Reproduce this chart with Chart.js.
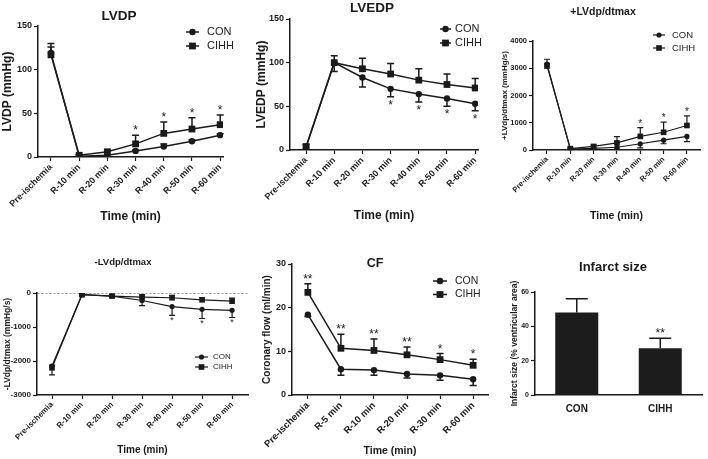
<!DOCTYPE html>
<html>
<head>
<meta charset="utf-8">
<title>Cardiac function after ischemia</title>
<script src="https://cdn.jsdelivr.net/npm/chart.js@4.4.1/dist/chart.umd.min.js"></script>
<style>
    body { margin: 0; background: #fff; }
    #page { position: relative; width: 708px; height: 459px; overflow: hidden; }
    #page canvas { position: absolute; }
</style>
</head>
<body>
<div id="page">
    <canvas id="lvdpChart"></canvas>
    <canvas id="lvedpChart"></canvas>
    <canvas id="plusChart"></canvas>
    <canvas id="minusChart"></canvas>
    <canvas id="cfChart"></canvas>
    <canvas id="infarctChart"></canvas>
</div>
<script>
// Data (mean, SD)
const timeLabels = ['Pre-ischemia', 'R-10 min', 'R-20 min', 'R-30 min', 'R-40 min', 'R-50 min', 'R-60 min'];
const cfLabels = ['Pre-ischemia', 'R-5 min', 'R-10 min', 'R-20 min', 'R-30 min', 'R-60 min'];
const groups = ['CON', 'CIHH'];

const lvdpCon = [119, 1, 2, 7, 12, 18, 25];
const lvdpConSd = [11, 1, 1, 1, 3, 1.5, 1.5];
const lvdpCihh = [117, 2, 6, 15, 27, 32, 37];
const lvdpCihhSd = [9, 1, 2, 10, 13, 13, 11];
const lvdpStars = ['', '', '', '*', '*', '*', '*'];

const lvedpCon = [3, 100, 83, 70, 64, 59, 53];
const lvedpConSd = [2, 10, 11, 9, 9, 9, 8];
const lvedpCihh = [4, 100, 93, 87, 80, 75, 71];
const lvedpCihhSd = [2, 8, 12, 12, 13, 12, 11];
const lvedpStars = ['', '', '', '*', '*', '*', '*'];

const plusCon = [3150, 30, 60, 100, 230, 360, 500];
const plusConSd = [150, 20, 40, 60, 150, 130, 190];
const plusCihh = [3100, 50, 130, 260, 500, 650, 900];
const plusCihhSd = [230, 30, 60, 230, 320, 370, 350];
const plusStars = ['', '', '', '', '*', '*', '*'];

const minusCon = [-2150, -50, -90, -220, -400, -480, -510];
const minusConSd = [260, 30, 40, 150, 260, 270, 210];
const minusCihh = [-2200, -50, -90, -120, -140, -200, -240];
const minusCihhSd = [80, 30, 40, 70, 70, 60, 90];
const minusStars = ['', '', '', '', '*', '*', '*'];

const cfCon = [18.4, 5.9, 5.7, 4.8, 4.5, 3.6];
const cfConSd = [0.4, 1.4, 1.2, 0.9, 1.1, 1.4];
const cfCihh = [23.5, 10.7, 10.2, 9.2, 8.1, 6.8];
const cfCihhSd = [2.0, 3.2, 2.6, 1.8, 1.4, 1.4];
const cfStars = ['**', '**', '**', '**', '*', '*'];

const infarct = [48, 27.3];
const infarctSd = [8, 5.8];
const infarctStars = ['', '**'];

// Styling
const FONT = '"Liberation Sans", Arial, Helvetica, sans-serif';
const INK = '#1a1a1a';
Chart.defaults.font.family = FONT;
Chart.defaults.color = INK;

// Plugins
const panelTitle = {
    id: 'panelTitle',
    afterDraw(chart, args, o) {
        if (!o.text) return;
        const ctx = chart.ctx;
        ctx.save();
        ctx.font = `bold ${o.size}px ${FONT}`;
        ctx.fillStyle = INK;
        ctx.textAlign = 'center';
        ctx.textBaseline = 'middle';
        ctx.fillText(o.text, o.x, o.y);
        ctx.restore();
    }
};

function valueOf(d) {
    return typeof d === 'object' ? d.y : d;
}

const errorBars = {
    id: 'errorBars',
    beforeDatasetsDraw(chart, args, o) {
        const ctx = chart.ctx;
        const yScale = chart.scales.y;
        ctx.save();
        ctx.strokeStyle = INK;
        ctx.lineWidth = o.width;
        chart.data.datasets.forEach((ds, i) => {
            if (!ds.errors) return;
            chart.getDatasetMeta(i).data.forEach((el, j) => {
                const end = yScale.getPixelForValue(valueOf(ds.data[j]) + ds.errorDir * ds.errors[j]);
                ctx.beginPath();
                ctx.moveTo(el.x, el.y);
                ctx.lineTo(el.x, end);
                ctx.moveTo(el.x - o.cap, end);
                ctx.lineTo(el.x + o.cap, end);
                ctx.stroke();
            });
        });
        ctx.restore();
    },
    afterDatasetsDraw(chart, args, o) {
        if (!o.stars) return;
        const ctx = chart.ctx;
        const yScale = chart.scales.y;
        const ds = chart.data.datasets[o.starOn];
        const meta = chart.getDatasetMeta(o.starOn);
        ctx.save();
        ctx.font = `${o.starSize}px ${FONT}`;
        ctx.fillStyle = INK;
        ctx.textAlign = 'center';
        ctx.textBaseline = 'alphabetic';
        o.stars.forEach((s, j) => {
            if (!s) return;
            const end = yScale.getPixelForValue(valueOf(ds.data[j]) + ds.errorDir * ds.errors[j]);
            const y = ds.errorDir > 0 ? end - o.starGap : end + 0.75 * o.starSize + o.starGap;
            ctx.fillText(s, meta.data[j].x, y);
        });
        ctx.restore();
    }
};

const lineLegend = {
    id: 'lineLegend',
    afterDraw(chart, args, o) {
        if (!o.x) return;
        const ctx = chart.ctx;
        ctx.save();
        ctx.font = `${o.size}px ${FONT}`;
        ctx.textBaseline = 'middle';
        chart.data.datasets.forEach((ds, i) => {
            const y = o.y + i * o.step;
            ctx.strokeStyle = INK;
            ctx.fillStyle = INK;
            ctx.lineWidth = ds.borderWidth;
            ctx.beginPath();
            ctx.moveTo(o.x, y);
            ctx.lineTo(o.x + o.len, y);
            ctx.stroke();
            Chart.helpers.drawPoint(ctx, { pointStyle: ds.pointStyle, radius: ds.pointRadius, borderWidth: 0 }, o.x + o.len / 2, y);
            ctx.fillStyle = '#222';
            ctx.fillText(ds.label, o.x + o.len + o.gap, y);
        });
        ctx.restore();
    }
};

// Shared helpers
function placeCanvas(id, box) {
    const canvas = document.getElementById(id);
    canvas.width = box.w;
    canvas.height = box.h;
    canvas.style.left = box.x + 'px';
    canvas.style.top = box.y + 'px';
    return canvas;
}

function series(label, values, errors, dir, style, p) {
    return {
        label: label,
        data: values.map((v, i) => ({ x: i, y: v })),
        errors: errors,
        errorDir: dir,
        borderColor: INK,
        backgroundColor: INK,
        borderWidth: p.lw,
        pointStyle: style,
        pointRadius: style === 'rect' ? p.rect : p.dot,
        pointBackgroundColor: INK,
        pointBorderColor: INK,
        pointBorderWidth: 0,
        tension: 0
    };
}

function linePanel(id, p) {
    const b = p.box, a = p.area;
    const canvas = placeCanvas(id, b);
    const xH = b.y + b.h - a.bottom;
    const yW = a.left - b.x;
    const yTitleLh = p.yTitleSize * 1.2;
    const xTitleLh = p.xTitleSize * 1.2;
    return new Chart(canvas, {
        type: 'line',
        data: {
            datasets: [
                series('CON', p.con, p.conSd, p.conDir, 'circle', p),
                series('CIHH', p.cihh, p.cihhSd, p.cihhDir, 'rect', p)
            ]
        },
        options: {
            responsive: false,
            animation: false,
            devicePixelRatio: 1,
            layout: { padding: { left: 0, top: a.top - b.y, right: b.x + b.w - a.right, bottom: 0 } },
            plugins: {
                legend: { display: false },
                tooltip: { enabled: false },
                panelTitle: { text: p.title, x: p.titleX - b.x, y: p.titleY - b.y, size: p.titleSize },
                lineLegend: { x: p.legend.x - b.x, y: p.legend.y - b.y, len: p.legend.len, gap: p.legend.gap, step: p.legend.step, size: p.legend.size },
                errorBars: { cap: p.cap, width: p.lw, stars: p.stars, starOn: p.starOn, starSize: p.starSize, starGap: p.starGap }
            },
            scales: {
                x: {
                    type: 'linear',
                    min: p.xMin,
                    max: p.xMax,
                    afterFit: (s) => { s.height = xH; },
                    ticks: {
                        stepSize: 1,
                        includeBounds: false,
                        autoSkip: false,
                        minRotation: 45,
                        maxRotation: 45,
                        padding: 1,
                        color: INK,
                        font: { size: p.xTickSize, weight: 'bold' },
                        callback: (v) => p.labels[v] ?? ''
                    },
                    grid: { drawOnChartArea: false, tickLength: 4, tickColor: INK, tickWidth: 1.2 },
                    border: { color: INK, width: 1.5 },
                    title: {
                        display: true,
                        text: 'Time (min)',
                        color: INK,
                        font: { size: p.xTitleSize, weight: 'bold' },
                        padding: { top: 0, bottom: (b.y + b.h - p.xTitleY) - xTitleLh / 2 }
                    }
                },
                y: {
                    min: p.yMin,
                    max: p.yMax,
                    afterFit: (s) => { s.width = yW; },
                    ticks: {
                        stepSize: p.yStep,
                        padding: 2,
                        color: INK,
                        font: { size: p.yTickSize, weight: 'bold' },
                        callback: (v) => String(v)
                    },
                    grid: {
                        drawOnChartArea: !!p.zeroLine,
                        color: (c) => (p.zeroLine && c.tick && c.tick.value === 0) ? '#9a9a9a' : 'rgba(0,0,0,0)',
                        tickLength: 4,
                        tickColor: INK,
                        tickWidth: 1.2
                    },
                    border: { color: INK, width: 1.5, dash: p.zeroLine ? [2, 2] : [] },
                    title: {
                        display: true,
                        text: p.yTitle,
                        color: INK,
                        font: { size: p.yTitleSize, weight: 'bold' },
                        padding: { top: (p.yTitleX - b.x) - yTitleLh / 2, bottom: 0 }
                    }
                }
            }
        },
        plugins: [panelTitle, errorBars, lineLegend]
    });
}

// Panels
document.addEventListener('DOMContentLoaded', () => {
    linePanel('lvdpChart', {
        box: { x: 0, y: 0, w: 240, h: 230 },
        area: { left: 38, top: 26, right: 223, bottom: 157 },
        labels: timeLabels, xMin: -0.46, xMax: 6.1,
        yMin: 0, yMax: 150, yStep: 50,
        con: lvdpCon, conSd: lvdpConSd, conDir: 1,
        cihh: lvdpCihh, cihhSd: lvdpCihhSd, cihhDir: 1,
        stars: lvdpStars, starOn: 1, starSize: 12, starGap: 1,
        title: 'LVDP', titleX: 119, titleY: 16, titleSize: 13.5,
        yTitle: 'LVDP (mmHg)', yTitleX: 8, yTitleSize: 12,
        xTitleY: 217, xTitleSize: 12,
        xTickSize: 9, yTickSize: 9,
        legend: { x: 186, y: 32, len: 13, gap: 8, step: 14, size: 11 },
        lw: 1.5, dot: 3.2, rect: 4.8, cap: 3.5
    });

    linePanel('lvedpChart', {
        box: { x: 238, y: 0, w: 258, h: 230 },
        area: { left: 290, top: 19, right: 478, bottom: 150 },
        labels: timeLabels, xMin: -0.57, xMax: 6.1,
        yMin: 0, yMax: 150, yStep: 50,
        con: lvedpCon, conSd: lvedpConSd, conDir: -1,
        cihh: lvedpCihh, cihhSd: lvedpCihhSd, cihhDir: 1,
        stars: lvedpStars, starOn: 0, starSize: 12, starGap: 3,
        title: 'LVEDP', titleX: 372, titleY: 8, titleSize: 13.5,
        yTitle: 'LVEDP (mmHg)', yTitleX: 262, yTitleSize: 12,
        xTitleY: 216, xTitleSize: 12,
        xTickSize: 9, yTickSize: 9,
        legend: { x: 440, y: 29, len: 11, gap: 4, step: 14, size: 11 },
        lw: 1.5, dot: 3.2, rect: 4.8, cap: 3.5
    });

    linePanel('plusChart', {
        box: { x: 492, y: 0, w: 216, h: 230 },
        area: { left: 533, top: 41, right: 700, bottom: 150 },
        labels: timeLabels, xMin: -0.6, xMax: 6.56,
        yMin: 0, yMax: 4000, yStep: 1000,
        con: plusCon, conSd: plusConSd, conDir: -1,
        cihh: plusCihh, cihhSd: plusCihhSd, cihhDir: 1,
        stars: plusStars, starOn: 1, starSize: 10, starGap: 1,
        title: '+LVdp/dtmax', titleX: 603, titleY: 12, titleSize: 10.5,
        yTitle: '+LVdp/dtmax (mmHg/s)', yTitleX: 505, yTitleSize: 8,
        xTitleY: 216, xTitleSize: 10.5,
        xTickSize: 7.5, yTickSize: 7.5,
        legend: { x: 653, y: 35, len: 12, gap: 7, step: 13, size: 9.5 },
        lw: 1.2, dot: 2.6, rect: 4, cap: 3
    });

    linePanel('minusChart', {
        box: { x: 0, y: 236, w: 252, h: 223 },
        area: { left: 37, top: 293, right: 248, bottom: 395 },
        labels: timeLabels, xMin: -0.5, xMax: 6.53,
        yMin: -3000, yMax: 0, yStep: 1000,
        con: minusCon, conSd: minusConSd, conDir: -1,
        cihh: minusCihh, cihhSd: minusCihhSd, cihhDir: 1,
        stars: minusStars, starOn: 0, starSize: 9, starGap: 1,
        title: '-LVdp/dtmax', titleX: 123, titleY: 262, titleSize: 9.5,
        yTitle: '-LVdp/dtmax (mmHg/s)', yTitleX: 8, yTitleSize: 8.5,
        xTitleY: 450, xTitleSize: 10,
        xTickSize: 8, yTickSize: 8,
        legend: { x: 195, y: 357, len: 13, gap: 5, step: 10, size: 8 },
        lw: 1.2, dot: 2.6, rect: 4, cap: 3,
        zeroLine: true
    });

    linePanel('cfChart', {
        box: { x: 252, y: 236, w: 244, h: 223 },
        area: { left: 292, top: 264, right: 488, bottom: 395 },
        labels: cfLabels, xMin: -0.48, xMax: 5.45,
        yMin: 0, yMax: 30, yStep: 10,
        con: cfCon, conSd: cfConSd, conDir: -1,
        cihh: cfCihh, cihhSd: cfCihhSd, cihhDir: 1,
        stars: cfStars, starOn: 1, starSize: 12, starGap: 1,
        title: 'CF', titleX: 375, titleY: 264, titleSize: 12.5,
        yTitle: 'Coronary flow (ml/min)', yTitleX: 267, yTitleSize: 10,
        xTitleY: 451, xTitleSize: 10.5,
        xTickSize: 9.5, yTickSize: 9,
        legend: { x: 433, y: 281, len: 14, gap: 8, step: 13.5, size: 10.5 },
        lw: 1.5, dot: 3.2, rect: 4.8, cap: 3.5
    });

    // Infarct size bar chart
    const ib = { x: 496, y: 236, w: 212, h: 223 };
    const ia = { left: 535, top: 292, right: 702, bottom: 395 };
    new Chart(placeCanvas('infarctChart', ib), {
        type: 'bar',
        data: {
            labels: groups,
            datasets: [{
                data: infarct,
                errors: infarctSd,
                errorDir: 1,
                backgroundColor: '#1c1c1c',
                borderWidth: 0,
                barPercentage: 0.515,
                categoryPercentage: 1
            }]
        },
        options: {
            responsive: false,
            animation: false,
            devicePixelRatio: 1,
            layout: { padding: { left: 0, top: ia.top - ib.y, right: ib.x + ib.w - ia.right, bottom: 0 } },
            plugins: {
                legend: { display: false },
                tooltip: { enabled: false },
                panelTitle: { text: 'Infarct size', x: 613 - ib.x, y: 267 - ib.y, size: 13 },
                errorBars: { cap: 11, width: 1.5, stars: infarctStars, starOn: 0, starSize: 12, starGap: 1 }
            },
            scales: {
                x: {
                    afterFit: (s) => { s.height = ib.y + ib.h - ia.bottom; },
                    ticks: { padding: 8, color: INK, font: { size: 10, weight: 'bold' } },
                    grid: { display: false, drawTicks: false },
                    border: { color: INK, width: 1.5 }
                },
                y: {
                    min: 0,
                    max: 60,
                    afterFit: (s) => { s.width = ia.left - ib.x; },
                    ticks: { stepSize: 20, padding: 2, color: INK, font: { size: 7, weight: 'bold' } },
                    grid: { drawOnChartArea: false, tickLength: 4, tickColor: INK, tickWidth: 1.2 },
                    border: { color: INK, width: 1.5 },
                    title: {
                        display: true,
                        text: 'Infarct size (% ventricular area)',
                        color: INK,
                        font: { size: 8.5, weight: 'bold' },
                        padding: { top: (515 - ib.x) - 5.1, bottom: 0 }
                    }
                }
            }
        },
        plugins: [panelTitle, errorBars]
    });
});
</script>
</body>
</html>
